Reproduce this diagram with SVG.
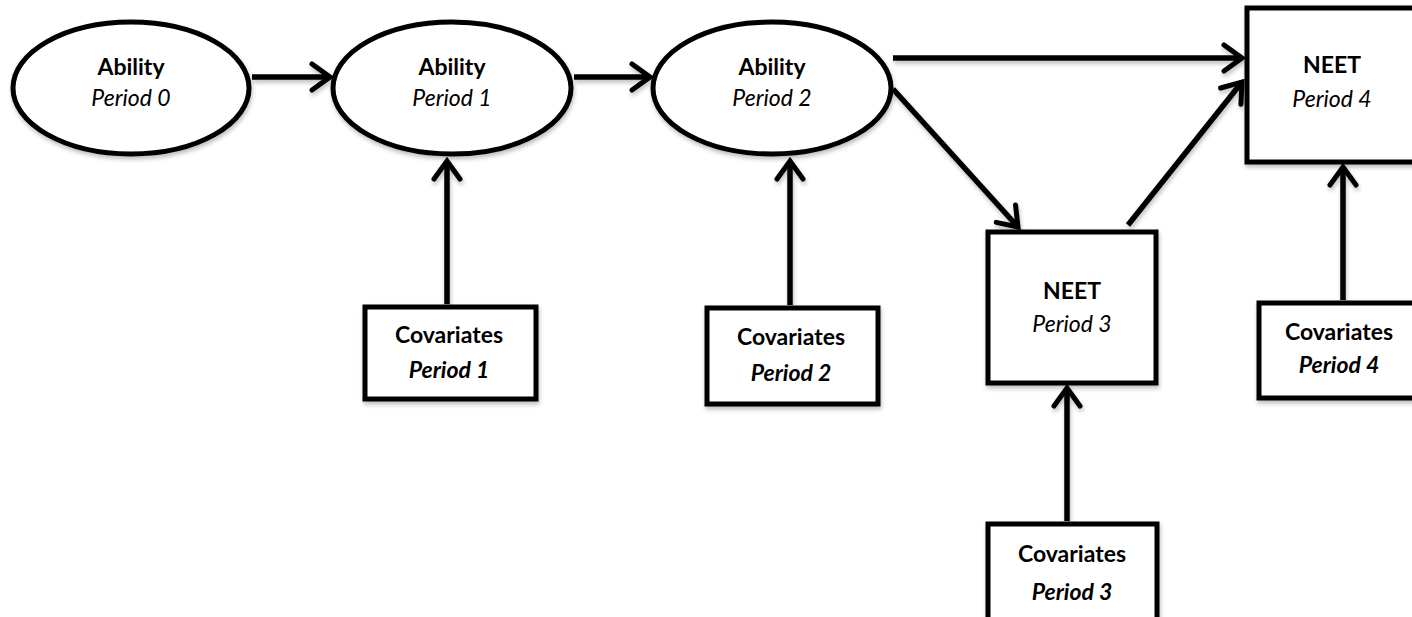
<svg xmlns="http://www.w3.org/2000/svg" width="1412" height="617" viewBox="0 0 1412 617">
<defs>
<filter id="sh" filterUnits="userSpaceOnUse" x="0" y="0" width="1412" height="617"><feDropShadow dx="1" dy="3" stdDeviation="2" flood-color="#000" flood-opacity="0.25"/></filter>
<marker id="ah" markerUnits="userSpaceOnUse" viewBox="-24 -17 28 34" refX="0" refY="0" markerWidth="28" markerHeight="34" orient="auto">
<path d="M-18,-13 L0,0 L-18,13" fill="none" stroke="#000" stroke-width="5" stroke-linecap="round" stroke-linejoin="miter"/>
</marker>
</defs>
<style>
.n{fill:#fff;stroke:#000;stroke-width:5;filter:url(#sh)}
.c{filter:url(#sh)}
.c line{stroke:#000;stroke-width:5.5;marker-end:url(#ah)}
text{font-family:Lato,"Liberation Sans",sans-serif;font-size:23px;text-anchor:middle;fill:#000}
.b{font-weight:bold}
.i{font-style:italic}
.bi{font-weight:bold;font-style:italic}
</style>
<rect width="1412" height="617" fill="#fff"/>
<g class="c" id="connectors">
<line x1="252" y1="77" x2="330" y2="77"/>
<line x1="574" y1="77" x2="650" y2="77"/>
<line x1="893" y1="58" x2="1242" y2="58"/>
<line x1="893" y1="89" x2="1018" y2="227"/>
<line x1="1128" y1="225" x2="1242" y2="82"/>
<line x1="447" y1="304" x2="447" y2="161"/>
<line x1="790" y1="305" x2="790" y2="161"/>
<line x1="1067" y1="521" x2="1067" y2="388"/>
<line x1="1343" y1="300" x2="1343" y2="167"/>
</g>
<g id="ability0"><ellipse class="n" cx="131" cy="88" rx="118" ry="66"/><text class="b" x="131" y="75">Ability</text><text class="i" x="131" y="106">Period 0</text></g>
<g id="ability1"><ellipse class="n" cx="452" cy="88" rx="119" ry="66"/><text class="b" x="452" y="75">Ability</text><text class="i" x="452" y="106">Period 1</text></g>
<g id="ability2"><ellipse class="n" cx="772" cy="88" rx="119" ry="66"/><text class="b" x="772" y="75">Ability</text><text class="i" x="772" y="106">Period 2</text></g>
<g id="neet4"><rect class="n" x="1247" y="8" width="175" height="154"/><text class="b" x="1332" y="73">NEET</text><text class="i" x="1332" y="107">Period 4</text></g>
<g id="neet3"><rect class="n" x="988" y="232" width="168" height="151"/><text class="b" x="1072" y="299">NEET</text><text class="i" x="1072" y="332">Period 3</text></g>
<g id="cov1"><rect class="n" x="365" y="307" width="171" height="92"/><text class="b" x="449" y="343">Covariates</text><text class="bi" x="449" y="378">Period 1</text></g>
<g id="cov2"><rect class="n" x="707" y="308" width="171" height="96"/><text class="b" x="791" y="345">Covariates</text><text class="bi" x="791" y="381">Period 2</text></g>
<g id="cov3"><rect class="n" x="988" y="524" width="169" height="110"/><text class="b" x="1072" y="562">Covariates</text><text class="bi" x="1072" y="600">Period 3</text></g>
<g id="cov4"><rect class="n" x="1259" y="303" width="170" height="95"/><text class="b" x="1339" y="340">Covariates</text><text class="bi" x="1339" y="373">Period 4</text></g>
</svg>
